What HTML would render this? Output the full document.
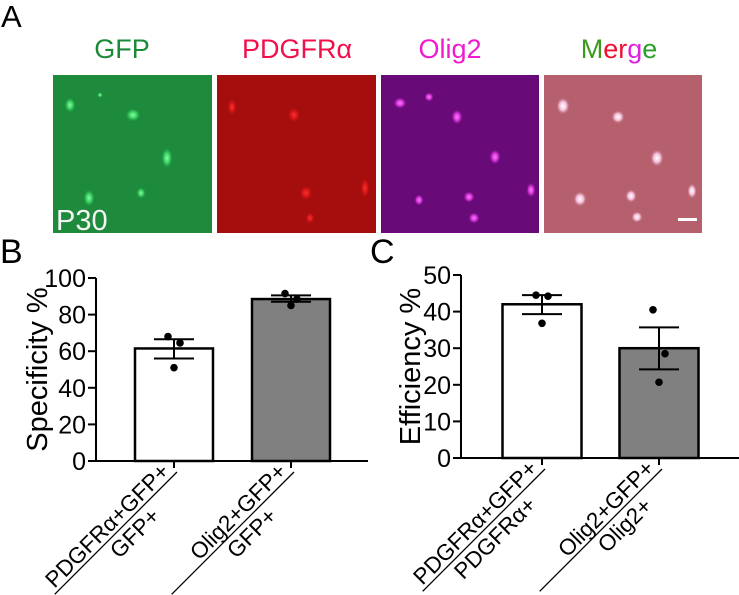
<!DOCTYPE html>
<html><head><meta charset="utf-8"><style>
html,body{margin:0;padding:0;background:#fff;width:739px;height:595px;overflow:hidden}
svg{display:block;font-family:"Liberation Sans",Arial,sans-serif}
</style></head><body>
<svg id="fig" width="739" height="595" viewBox="0 0 739 595">
<defs>
<radialGradient id="gG"><stop offset="0" stop-color="#8dffa8"/><stop offset="0.5" stop-color="#3fe06a" stop-opacity="0.8"/><stop offset="1" stop-color="#1b8a3a" stop-opacity="0"/></radialGradient>
<radialGradient id="gR"><stop offset="0" stop-color="#ff3030"/><stop offset="0.5" stop-color="#e01818" stop-opacity="0.8"/><stop offset="1" stop-color="#a00d0d" stop-opacity="0"/></radialGradient>
<radialGradient id="gM"><stop offset="0" stop-color="#ff7cff"/><stop offset="0.5" stop-color="#e83ae8" stop-opacity="0.85"/><stop offset="1" stop-color="#6a0a78" stop-opacity="0"/></radialGradient>
<radialGradient id="gW"><stop offset="0" stop-color="#ffffff"/><stop offset="0.5" stop-color="#ffd0f0" stop-opacity="0.85"/><stop offset="1" stop-color="#b8606a" stop-opacity="0"/></radialGradient>
</defs>
<text x="1" y="27" font-size="31">A</text>
<text x="122" y="58" font-size="27" fill="#1a8a38" text-anchor="middle">GFP</text>
<text x="297" y="58" font-size="27" fill="#f0104a" text-anchor="middle">PDGFRα</text>
<text x="450" y="58" font-size="27" fill="#f01ad0" text-anchor="middle">Olig2</text>
<text x="619" y="58" font-size="27" text-anchor="middle"><tspan fill="#3a9a1a">M</tspan><tspan fill="#f01030">er</tspan><tspan fill="#e020e0">g</tspan><tspan fill="#2aa02a">e</tspan></text>
<g>
<rect x="53" y="75" width="159" height="158" fill="#1d8a3c"/>
<ellipse cx="70" cy="105" rx="6" ry="8" fill="url(#gG)"/><ellipse cx="133" cy="115" rx="8" ry="7" fill="url(#gG)"/><ellipse cx="167" cy="158" rx="6" ry="11" fill="url(#gG)"/><ellipse cx="89" cy="198" rx="6" ry="9" fill="url(#gG)"/><ellipse cx="141" cy="193" rx="5" ry="6" fill="url(#gG)"/><ellipse cx="100" cy="95" rx="3" ry="3" fill="url(#gG)"/>
<text x="56" y="230" font-size="29" fill="#f4f4f4">P30</text>
</g>
<g>
<rect x="217" y="75" width="159" height="158" fill="#a60e0e"/>
<ellipse cx="232" cy="107" rx="5" ry="9" fill="url(#gR)"/><ellipse cx="294" cy="115" rx="7" ry="8" fill="url(#gR)"/><ellipse cx="306" cy="193" rx="7" ry="8" fill="url(#gR)"/><ellipse cx="365" cy="188" rx="5" ry="11" fill="url(#gR)"/><ellipse cx="310" cy="218" rx="5" ry="6" fill="url(#gR)"/>
</g>
<g>
<rect x="381" y="75" width="158" height="158" fill="#680a78"/>
<ellipse cx="400" cy="103" rx="7" ry="6" fill="url(#gM)"/><ellipse cx="457" cy="117" rx="6" ry="8" fill="url(#gM)"/><ellipse cx="429" cy="97" rx="5" ry="5" fill="url(#gM)"/><ellipse cx="495" cy="157" rx="6" ry="8" fill="url(#gM)"/><ellipse cx="531" cy="190" rx="5" ry="8" fill="url(#gM)"/><ellipse cx="469" cy="197" rx="6" ry="6" fill="url(#gM)"/><ellipse cx="419" cy="200" rx="5" ry="6" fill="url(#gM)"/><ellipse cx="474" cy="218" rx="6" ry="6" fill="url(#gM)"/>
</g>
<g>
<rect x="544" y="75" width="158" height="158" fill="#b5606c"/>
<ellipse cx="563" cy="106" rx="7" ry="9" fill="url(#gW)"/><ellipse cx="618" cy="117" rx="7" ry="7" fill="url(#gW)"/><ellipse cx="657" cy="158" rx="7" ry="9" fill="url(#gW)"/><ellipse cx="580" cy="199" rx="7" ry="8" fill="url(#gW)"/><ellipse cx="631" cy="196" rx="6" ry="7" fill="url(#gW)"/><ellipse cx="637" cy="217" rx="6" ry="6" fill="url(#gW)"/><ellipse cx="692" cy="191" rx="5" ry="8" fill="url(#gW)"/>
<rect x="678" y="218" width="19" height="3" fill="#fff"/>
</g>
<text x="0" y="263" font-size="34">B</text>
<text x="370" y="263" font-size="34">C</text>
<g id="chartB"></g>
<g id="chartC"></g>
</svg>
<script>
const NS='http://www.w3.org/2000/svg';
const bCategories=['PDGFRα+GFP+|GFP+','Olig2+GFP+|GFP+'];
const bMeans=[61.5,88.5];
const bErrLow=[56,87];
const bErrHigh=[66.5,90.5];
const bPoints=[[68,64.5,51],[91.5,88.5,85]];
const bTicks=[0,20,40,60,80,100];
const cCategories=['PDGFRα+GFP+|PDGFRα+','Olig2+GFP+|Olig2+'];
const cMeans=[42,30];
const cErrLow=[39.3,24.2];
const cErrHigh=[44.5,35.7];
const cPoints=[[44.5,44.2,36.8],[40.5,28.5,20.7]];
const cTicks=[0,10,20,30,40,50];
const barFills=['#ffffff','#808080'];

function mk(tag,attrs,parent){const e=document.createElementNS(NS,tag);for(const k in attrs)e.setAttribute(k,attrs[k]);parent.appendChild(e);return e;}

function drawChart(g,cfg){
  const y=v=>cfg.y0-(v/cfg.yMax)*(cfg.y0-cfg.yTop);
  const ax=mk('line',{x1:cfg.ax,y1:y(cfg.yMax),x2:cfg.ax,y2:cfg.y0,stroke:'#000','stroke-width':2},g);
  
  
  const xl=mk('line',{x1:cfg.ax,y1:cfg.y0,x2:cfg.axEnd,y2:cfg.y0,stroke:'#000','stroke-width':2},g);
  
  
  cfg.ticks.forEach(t=>{
    mk('line',{x1:cfg.ax-8,y1:y(t),x2:cfg.ax,y2:y(t),stroke:'#000','stroke-width':2},g);
    const tl=mk('text',{x:cfg.ax-10,y:y(t)+9,'font-size':25,'text-anchor':'end'},g);
    tl.textContent=t;
    
    
  });
  const ttl=mk('text',{x:0,y:0,'font-size':29,'text-anchor':'middle',transform:`translate(${cfg.titleX},${(y(cfg.yMax)+cfg.y0)/2}) rotate(-90)`},g);
  ttl.textContent=cfg.title;
  
  
  cfg.means.forEach((m,i)=>{
    const cx=cfg.centers[i], w=cfg.barW;
    const bar=mk('rect',{x:cx-w/2,y:y(m),width:w,height:cfg.y0-y(m),fill:barFills[i],stroke:'#000','stroke-width':2.5},g);
    
    
    const eb=mk('path',{d:`M${cx},${y(cfg.lo[i])}V${y(cfg.hi[i])}M${cx-20},${y(cfg.lo[i])}H${cx+20}M${cx-20},${y(cfg.hi[i])}H${cx+20}`,stroke:'#000','stroke-width':2,fill:'none'},g);
    
    
    const offs=[-6,6,0];
    cfg.points[i].forEach((p,j)=>{
      const dot=mk('circle',{cx:cx+offs[j],cy:y(p),r:3.8,fill:'#000'},g);
      
      
    });
    mk('line',{x1:cx,y1:cfg.y0,x2:cx,y2:cfg.y0+7,stroke:'#000','stroke-width':2},g);
    const [num,den]=cfg.cats[i].split('|');
    const lg=mk('g',{transform:`translate(${cx+3},${cfg.y0+11}) rotate(-45)`},g);
    
    
    const n=mk('text',{x:-5,y:-4,'font-size':22.5,'text-anchor':'end'},lg);n.textContent=num;
    mk('line',{x1:0,y1:0,x2:-173,y2:0,stroke:'#000','stroke-width':1.3},lg);
    const d=mk('text',{x:-cfg.denMid[i],y:21,'font-size':22.5,'text-anchor':'middle'},lg);d.textContent=den;
  });
}
drawChart(document.getElementById('chartB'),{ax:96,axEnd:368,y0:461,yTop:278,yMax:100,ticks:bTicks,title:'Specificity %',titleX:47,
  centers:[174,291],barW:78,means:bMeans,lo:bErrLow,hi:bErrHigh,points:bPoints,cats:bCategories,denMid:[73,73]});
drawChart(document.getElementById('chartC'),{ax:461,axEnd:739,y0:458,yTop:275,yMax:50,ticks:cTicks,title:'Efficiency %',titleX:420,
  centers:[542,659],barW:79,means:cMeans,lo:cErrLow,hi:cErrHigh,points:cPoints,cats:cCategories,denMid:[84,66]});
</script>
</body></html>
